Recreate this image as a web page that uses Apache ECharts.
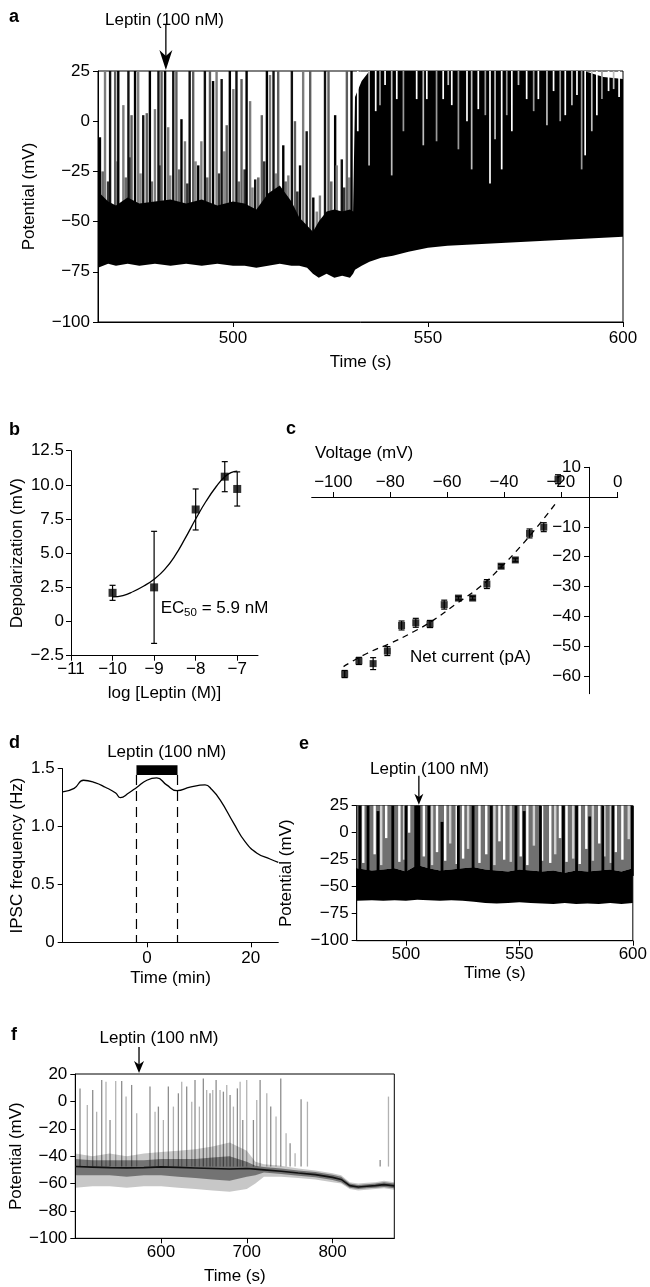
<!DOCTYPE html>
<html><head><meta charset="utf-8">
<script src="https://cdn.jsdelivr.net/npm/echarts@6/dist/echarts.min.js"></script>
<style>html,body{margin:0;padding:0;background:#fff}#c{width:650px;height:1287px}</style>
</head><body><div id="c"></div>
<script>
// ---------- Panel a : membrane potential trace ----------
const aT  = [465.4,468,470,473,476,480,484,488,492,496,500,503,506,509,512,515,517,519,520.5,522,524,526,528,530,530.8,531.3,533,535,538,541,545,550,555,560,565,570,575,580,585,590,595,600];
const aLo = [-73,-71,-72,-71,-72,-71,-72,-71,-72,-71,-72,-72,-73,-72,-71,-72,-72,-73,-76,-78,-76,-78,-77,-78,-76,-74,-72,-70,-68,-67,-65,-63,-62,-61.5,-61,-60.5,-60,-59.5,-59,-58.5,-58,-57.5];
const aHi = [-35,-40,-42,-38,-41,-40,-39,-41,-39,-42,-40,-41,-44,-36,-32,-40,-48,-52,-55,-50,-45,-44,-45,-44,-45,12,20,25,25,25,25,25,25,25,25,25,25,25,25,25,22,21];
const aSpikeT  = [465.9,467.2,468.5,469.8,470.6,471.9,473.2,474.0,474.9,475.7,477.0,477.9,478.7,480.0,480.9,481.7,482.6,483.4,484.7,485.5,486.8,487.7,488.9,489.8,491.1,491.9,492.8,494.1,494.9,495.8,497.1,498.4,499.2,500.1,500.9,502.2,503.5,504.4,505.7,507.4,508.7,509.5,510.4,511.6,512.9,514.2,515.1,515.9,517.2,518.0,518.9,519.8,520.6,522.3,523.6,524.5,526.2,526.6,527.9,529.2,530.4];
const aSpikePk = [-8,25,25,25,25,8,25,3,25,25,3,4,25,6,25,25,25,-3,25,25,1,-10,25,25,-22,-10,25,25,20,25,21,-2,25,16,25,21,25,10,-29,3,25,23,25,25,-12,-27,25,0,-22,25,-5,25,-38,-37,25,25,3,-22,-19,25,25];
const aShortT  = [466.6,468.0,470.2,472.5,473.7,476.3,479.2,481.3,483.9,486.2,488.3,490.4,493.4,496.4,497.8,501.5,503.0,505.0,506.5,508.0,511.0,513.5,516.5,521.5,525.2,528.5,529.8];
const aShortPk = [-25,-30,-20,-28,-18,-26,-30,-22,-27,-24,-31,-20,-28,-26,-15,-30,-24,-33,-28,-20,-26,-30,-35,-45,-30,-33,-28];
const aGapT = [532.0,534.9,536.6,537.7,539.0,540.7,542.0,543.7,547.1,548.8,549.7,552.2,553.9,555.2,556.1,557.8,560.0,561.2,562.9,564.7,565.9,567.2,568.9,570.2,571.5,573.2,575.3,577.1,578.3,580.5,582.2,583.9,585.2,586.9,588.2,589.4,590.3,592.0,593.3,594.6,596.3,597.6,599.0];
const aGapD = [-5,-22,5,8,18,-27,11,-5,11,-12,11,-10,11,18,8,-14,0,-24,6,3,-31,-9,-24,3,-5,18,11,5,11,-2,15,0,3,8,13,-24,-17,-5,3,11,15,16,12];
const aLeptin = 482.8;
const aXTicks = [500,550,600];

// ---------- Panel b : dose response ----------
const bX   = [-10,-9,-8,-7.3,-7];
const bY   = [2.1,2.5,8.2,10.6,9.7];
const bErr = [0.55,4.1,1.5,1.1,1.25];
const bFitX = [-10,-9.75,-9.5,-9.25,-9,-8.75,-8.5,-8.25,-8,-7.75,-7.5,-7.3,-7.15,-7];
const bFitY = [1.8,1.9,2.2,2.6,3.1,3.8,4.8,6.1,7.5,8.8,9.9,10.6,10.9,11.0];
const bXTicks = [-11,-10,-9,-8,-7];

// ---------- Panel c : I-V relation ----------
const cV   = [-96,-91,-86,-81,-76,-71,-66,-61,-56,-51,-46,-41,-36,-31,-26,-21];
const cI   = [-59.4,-55.0,-55.9,-51.7,-43.1,-42.2,-42.6,-36.1,-33.9,-33.9,-29.2,-23.2,-21.1,-12.2,-10.1,6.0];
const cErr = [1.2,1.2,2.0,1.5,1.5,1.5,1.2,1.5,0.6,0.6,1.5,0.6,0.6,1.5,1.5,1.5];
const cFitV = [-96.4,-88.2,-80.0,-71.8,-64.8,-56.6,-48.4,-41.4,-34.3,-27.3,-21.4];
const cFitI = [-56.9,-52.5,-49.1,-45.2,-41.3,-35.7,-30.1,-23.9,-16.7,-8.8,-1.6];
const cXTicks = [-100,-80,-60,-40,-20,0];
const cYTicks = [10,-10,-20,-30,-40,-50,-60];

// ---------- Panel d : IPSC frequency ----------
const dT = [-16.2,-14,-12.2,-10,-8,-6,-5.1,-3.5,-1.9,0,1.9,3.8,5.8,8.3,11.2,12.5,14.1,16.7,18.9,21.2,23.7,25.3];
const dF = [1.30,1.33,1.40,1.38,1.34,1.29,1.25,1.29,1.34,1.40,1.42,1.36,1.31,1.34,1.36,1.32,1.23,1.03,0.87,0.77,0.72,0.69];
const dLeptin = [-2,5.9];
const dXTicks = [0,20];

// ---------- Panel e : potential trace ----------
const eT  = [478.3,485,490,495,500,505,510,515,520,525,530,535,540,545,550,555,560,565,570,575,580,585,590,595,600];
const eLo = [-63,-62.5,-63,-62.5,-63,-62,-62.5,-63,-62.5,-63,-64,-65,-65.5,-65,-64.5,-65,-65.5,-66,-65,-66,-65.5,-66,-65,-66,-65];
const eHi = [-33,-35,-34,-33,-36,-30,-33,-35,-34,-33,-32,-34,-35,-36,-34,-35,-36,-35,-37,-35,-36,-35,-34,-36,-33];
const eGapT = [481.2,486.2,489.1,491.3,497.1,499.2,501.4,507.9,511.5,513.7,517.3,519.5,522.4,525.2,527.4,532.4,535.4,539.0,541.2,543.3,546.2,550.6,553.5,556.4,560.0,563.6,565.8,567.9,570.8,573.7,576.6,579.5,582.4,585.2,587.4,590.3,592.5,595.4,598.2];
const eGapD = [-28,-20,-30,-5,-27,-25,0,-22,-30,-18,-26,-10,-29,-24,-15,-28,-20,-30,-8,-25,-27,-22,-30,-12,-26,-28,-20,-5,-27,-24,-29,-15,-26,-10,-22,-28,-18,-25,-6];
const eSpikeT  = [479.7,483.3,487.7,494.2,500.0,504.3,505.0,505.7,510.1,515.9,523.1,529.6,537.6,548.5,552.1,559.3,569.4,575.2,581.0,586.8,591.2,599.8];
const eSpikePk = [25,25,20,25,25,25,25,25,25,10,25,25,25,25,20,25,25,25,15,25,25,25];
const eLeptin = 505.7;
const eXTicks = [500,550,600];

// ---------- Panel f : potential trace ----------
const fT    = [500,520,540,560,580,600,620,640,660,680,700,710,720,740,760,780,800,810,820,830,840,850,860,872];
const fLo   = [-63,-62,-62,-63,-62,-62,-63,-64,-65,-66,-64,-60,-55,-55,-56,-57,-59,-60,-64,-65,-64.5,-64,-63.5,-64.5];
const fHi   = [-38,-40,-38,-40,-38,-37,-36,-35,-33,-30,-36,-44,-46,-47,-49,-50.5,-52.5,-54,-59,-60,-59.5,-59,-58,-59];
const fInLo = [-54,-54,-54,-55,-54,-54,-55,-56,-57,-58,-55,-54,-52,-53,-54.3,-55.5,-57.5,-59,-63,-64,-63.5,-63,-62.5,-63.5];
const fInHi = [-42,-43,-43,-43,-43,-42,-42,-42,-41,-40,-44,-47,-48,-49,-50.5,-51.5,-53.5,-55,-60,-61,-60.5,-60,-59,-60];
const fMid  = [-47.6,-48,-48.4,-48.6,-48.4,-47.8,-48.2,-48.6,-49,-49.4,-49,-49.5,-50,-51,-52.3,-53.5,-55.5,-57,-61.5,-62.5,-62,-61.5,-60.8,-61.7];
const fSpikeT  = [505.5,514.0,520.3,524.9,530.8,535.8,540.5,547.1,554.1,559.2,565.7,571.6,587.1,593.0,596.9,602.7,608.5,614.4,620.2,624.1,629.9,635.8,639.6,644.7,649.3,653.2,657.1,660.3,664.2,668.8,672.7,676.6,680.5,684.4,689.0,692.2,695.3,699.9,707.7,711.6,715.5,723.3,727.9,734.1,739.6,745.8,750.5,756.3,763.3,770.7,855.5,865.2];
const fSpikePk = [9.5,-2.6,8.3,-7.5,15.6,14.4,-13.6,14.9,14.9,3.5,12.0,-8.7,10.8,-7.5,-3.8,-13.6,10.8,-3.8,5.9,14.4,10.8,-0.2,15.6,-3.8,16.8,8.3,5.9,8.3,15.6,8.3,7.1,12.0,4.7,-3.8,9.5,14.4,-13.6,15.6,-13.6,1.0,15.6,5.9,-3.8,-11.1,16.8,-23.3,-30.6,-37.9,1.5,-0.2,-42.8,3.5];
const fLeptin = 574.3;
const fXTicks = [600,700,800];

// ---------- helpers ----------
const FONT = "'Liberation Sans', Arial, Helvetica, sans-serif";
const FS = 17;
const neg = v => (v < 0 ? '\u2212' + Math.abs(v) : String(v));
const lbl = (extra) => Object.assign({color:'#000', fontFamily:FONT, fontSize:FS}, extra);
const line1 = {show:true, onZero:false, lineStyle:{color:'#000', width:1}};
const tick1 = (extra) => Object.assign({show:true, length:5, lineStyle:{color:'#000', width:1}}, extra);

function band(gi, T, LO, HI, fill, z) {
  return {type:'custom', xAxisIndex:gi, yAxisIndex:gi, z:z, silent:true, data:[[T[0], 0]],
    renderItem: function(p, api) {
      const pts = [];
      for (let i = 0; i < T.length; i++) pts.push(api.coord([T[i], typeof LO === 'number' ? LO : LO[i]]));
      for (let i = T.length - 1; i >= 0; i--) pts.push(api.coord([T[i], typeof HI === 'number' ? HI : HI[i]]));
      return {type:'polygon', shape:{points:pts}, style:{fill:fill}};
    }};
}
function vlines(gi, T, FROM, TO, colors, width, z) {
  return {type:'custom', xAxisIndex:gi, yAxisIndex:gi, z:z, silent:true,
    data: T.map((t, i) => [t, typeof FROM === 'number' ? FROM : FROM[i], TO[i]]),
    renderItem: function(p, api) {
      const a = api.coord([api.value(0), api.value(1)]);
      const b = api.coord([api.value(0), api.value(2)]);
      return {type:'line', shape:{x1:a[0], y1:a[1], x2:b[0], y2:b[1]},
        style:{stroke:colors[p.dataIndex % colors.length], lineWidth:width}};
    }};
}
function arrow(gi, t, yTop, len, head, w) {
  return {type:'custom', xAxisIndex:gi, yAxisIndex:gi, z:20, silent:true, data:[[t, yTop]],
    renderItem: function(p, api) {
      const c = api.coord([api.value(0), api.value(1)]);
      const x = c[0], y = c[1] - 1;
      return {type:'group', children:[
        {type:'line', shape:{x1:x, y1:y - len, x2:x, y2:y - head * 0.6}, style:{stroke:'#000', lineWidth:1.3}},
        {type:'polygon', shape:{points:[[x - w/2, y - head], [x, y - head*0.7], [x + w/2, y - head], [x, y]]}, style:{fill:'#000'}}
      ]};
    }};
}
function errBars(gi, X, Y, E, cap) {
  return {type:'custom', xAxisIndex:gi, yAxisIndex:gi, z:5, silent:true,
    data: X.map((x, i) => [x, Y[i] - E[i], Y[i] + E[i]]),
    renderItem: function(p, api) {
      const lo = api.coord([api.value(0), api.value(1)]);
      const hi = api.coord([api.value(0), api.value(2)]);
      const st = {stroke:'#000', lineWidth:1.2};
      return {type:'group', children:[
        {type:'line', shape:{x1:lo[0], y1:lo[1], x2:hi[0], y2:hi[1]}, style:st},
        {type:'line', shape:{x1:lo[0]-cap, y1:lo[1], x2:lo[0]+cap, y2:lo[1]}, style:st},
        {type:'line', shape:{x1:hi[0]-cap, y1:hi[1], x2:hi[0]+cap, y2:hi[1]}, style:st}
      ]};
    }};
}
const pairs = (X, Y) => X.map((x, i) => [x, Y[i]]);

// ---------- layout ----------
const grids = [
  {left:98,  top:71,    width:525,   height:251,   show:true, borderColor:'#000', borderWidth:1},
  {left:71,  top:450.7, width:187,   height:205},
  {left:311.7, top:467.3, width:306, height:226.4},
  {left:62.7, top:768.7, width:215.6, height:173.6},
  {left:356.7, top:805.7, width:281,  height:135,  show:true, borderColor:'#000', borderWidth:1},
  {left:75.3, top:1074,  width:319,   height:164.3, show:true, borderColor:'#000', borderWidth:1}
];

const xAxes = [
  {gridIndex:0, type:'value', min:465.4, max:600, axisLine:line1, splitLine:{show:false},
   axisTick:tick1({customValues:aXTicks}), axisLabel:lbl({customValues:aXTicks, margin:8}),
   name:'Time (s)', nameLocation:'middle', nameGap:32, nameTextStyle:lbl({})},
  {gridIndex:1, type:'value', min:-11, max:-6.5, axisLine:line1, splitLine:{show:false},
   axisTick:tick1({customValues:bXTicks}), axisLabel:lbl({customValues:bXTicks, margin:5, formatter:neg}),
   name:'log [Leptin (M)]', nameLocation:'middle', nameGap:29, nameTextStyle:lbl({})},
  {gridIndex:2, type:'value', min:-107.6, max:0, position:'top', offset:-29.7, splitLine:{show:false},
   axisLine:{show:true, onZero:false, lineStyle:{color:'#000', width:1}},
   axisTick:tick1({customValues:cXTicks}),
   axisLabel:lbl({customValues:cXTicks, margin:6, formatter:neg})},
  {gridIndex:3, type:'value', min:-16.2, max:25.3, axisLine:line1, splitLine:{show:false},
   axisTick:tick1({customValues:dXTicks}), axisLabel:lbl({customValues:dXTicks, margin:8}),
   name:'Time (min)', nameLocation:'middle', nameGap:28, nameTextStyle:lbl({})},
  {gridIndex:4, type:'value', min:478.3, max:600, axisLine:line1, splitLine:{show:false},
   axisTick:tick1({customValues:eXTicks}), axisLabel:lbl({customValues:eXTicks, margin:5}),
   name:'Time (s)', nameLocation:'middle', nameGap:24, nameTextStyle:lbl({})},
  {gridIndex:5, type:'value', min:500, max:872, axisLine:line1, splitLine:{show:false},
   axisTick:tick1({customValues:fXTicks}), axisLabel:lbl({customValues:fXTicks, margin:6}),
   name:'Time (s)', nameLocation:'middle', nameGap:30, nameTextStyle:lbl({})}
];

const yAxes = [
  {gridIndex:0, type:'value', min:-100, max:25, interval:25, axisLine:line1, splitLine:{show:false},
   axisTick:tick1({}), axisLabel:lbl({margin:8, formatter:neg}),
   name:'Potential (mV)', nameLocation:'middle', nameGap:60, nameTextStyle:lbl({})},
  {gridIndex:1, type:'value', min:-2.5, max:12.5, interval:2.5, axisLine:line1, splitLine:{show:false},
   axisTick:tick1({}), axisLabel:lbl({margin:7, formatter: v => v === 0 ? '0' : (v < 0 ? '\u2212' : '') + Math.abs(v).toFixed(1)}),
   name:'Depolarization (mV)', nameLocation:'middle', nameGap:45, nameTextStyle:lbl({})},
  {gridIndex:2, type:'value', min:-66, max:10, position:'right', offset:-28.7, splitLine:{show:false},
   axisLine:{show:true, onZero:false, lineStyle:{color:'#000', width:1}},
   axisTick:tick1({inside:true, customValues:cYTicks}),
   axisLabel:lbl({inside:true, customValues:cYTicks, margin:8, formatter:neg})},
  {gridIndex:3, type:'value', min:0, max:1.5, interval:0.5, axisLine:line1, splitLine:{show:false},
   axisTick:tick1({}), axisLabel:lbl({margin:8, formatter: v => v === 0 ? '0' : v.toFixed(1)}),
   name:'IPSC frequency (Hz)', nameLocation:'middle', nameGap:37, nameTextStyle:lbl({})},
  {gridIndex:4, type:'value', min:-100, max:25, interval:25, axisLine:line1, splitLine:{show:false},
   axisTick:tick1({}), axisLabel:lbl({margin:8, formatter:neg}),
   name:'Potential (mV)', nameLocation:'middle', nameGap:62, nameTextStyle:lbl({})},
  {gridIndex:5, type:'value', min:-100, max:20, interval:20, axisLine:line1, splitLine:{show:false},
   axisTick:tick1({}), axisLabel:lbl({margin:8, formatter:neg}),
   name:'Potential (mV)', nameLocation:'middle', nameGap:44, nameTextStyle:lbl({})}
];

const series = [
  // a
  vlines(0, aShortT, -60, aShortPk, ['#6a6a6a', '#333', '#8a8a8a'], 2.6, 2),
  vlines(0, aSpikeT, -60, aSpikePk, ['#000', '#7d7d7d', '#111', '#5e5e5e'], 2.4, 2),
  band(0, aT, aLo, aHi, '#000', 3),
  vlines(0, aGapT, 25, aGapD, ['#ffffff', '#bdbdbd', '#ffffff', '#9a9a9a'], 1.7, 4),
  arrow(0, aLeptin, 25, 46, 20, 13),
  // b
  {type:'line', xAxisIndex:1, yAxisIndex:1, data:pairs(bFitX, bFitY), smooth:true, showSymbol:false, silent:true,
   lineStyle:{color:'#000', width:1.3}, z:3},
  errBars(1, bX, bY, bErr, 3),
  {type:'scatter', xAxisIndex:1, yAxisIndex:1, data:pairs(bX, bY), symbol:'rect', symbolSize:8, silent:true,
   itemStyle:{color:'#000'}, z:6},
  // c
  {type:'line', xAxisIndex:2, yAxisIndex:2, data:pairs(cFitV, cFitI), smooth:true, showSymbol:false, silent:true,
   lineStyle:{color:'#000', width:1.3, type:[6,5]}, z:3},
  errBars(2, cV, cI, cErr, 3),
  {type:'scatter', xAxisIndex:2, yAxisIndex:2, data:pairs(cV, cI), symbol:'rect', symbolSize:7, silent:true,
   itemStyle:{color:'#000'}, z:6},
  // d
  {type:'line', xAxisIndex:3, yAxisIndex:3, data:pairs(dT, dF), smooth:true, showSymbol:false, silent:true,
   lineStyle:{color:'#000', width:1.3}, z:3},
  {type:'custom', xAxisIndex:3, yAxisIndex:3, z:4, silent:true, data:[dLeptin],
   renderItem: function(p, api) {
     const on = api.value(0), off = api.value(1);
     const p1 = api.coord([on, 1.53]), p2 = api.coord([off, 1.445]);
     const b1 = api.coord([on, 0]), b2 = api.coord([off, 0]);
     const ds = {stroke:'#000', lineWidth:1.2, lineDash:[10,6]};
     return {type:'group', children:[
       {type:'rect', shape:{x:p1[0], y:p1[1], width:p2[0]-p1[0], height:p2[1]-p1[1]}, style:{fill:'#000'}},
       {type:'line', shape:{x1:p1[0], y1:p2[1], x2:b1[0], y2:b1[1]}, style:ds},
       {type:'line', shape:{x1:p2[0], y1:p2[1], x2:b2[0], y2:b2[1]}, style:ds}
     ]};
   }},
  // e
  band(4, eT, eHi, 25, '#707070', 2),
  vlines(4, eGapT, 25, eGapD, ['#ffffff', '#ffffff', '#d0d0d0'], 2.4, 3),
  vlines(4, eSpikeT, -40, eSpikePk, ['#000'], 2.8, 3),
  band(4, eT, eLo, eHi, '#000', 5),
  arrow(4, eLeptin, 25, 29, 11, 9),
  // f
  vlines(5, fSpikeT, fMid[0], fSpikePk, ['rgba(0,0,0,0.45)', 'rgba(0,0,0,0.3)'], 1.3, 2),
  band(5, fT, fLo, fHi, 'rgba(0,0,0,0.22)', 3),
  band(5, fT, fInLo, fInHi, 'rgba(0,0,0,0.42)', 4),
  {type:'line', xAxisIndex:5, yAxisIndex:5, data:pairs(fT, fMid), showSymbol:false, silent:true,
   lineStyle:{color:'#111', width:1.6}, z:5},
  arrow(5, fLeptin, 20, 26, 12, 10)
];

function txt(text, x, y, opts) {
  const o = Object.assign({align:'left', size:FS, weight:'normal'}, opts || {});
  return {type:'text', x:x, y:y, z:100, silent:true,
    style:{text:text, fill:'#000', font:o.weight + ' ' + o.size + 'px ' + FONT,
      textAlign:o.align, align:o.align, textVerticalAlign:'middle', verticalAlign:'middle'}};
}
const PL = {weight:'bold', size:18};
const graphic = [
  txt('a', 9, 17, PL), txt('b', 9, 430, PL), txt('c', 286, 429, PL),
  txt('d', 9, 743, PL), txt('e', 299, 744, PL), txt('f', 11, 1035, PL),
  txt('Leptin (100 nM)', 164.5, 20, {align:'center'}),
  txt('Leptin (100 nM)', 166.7, 752.7, {align:'center'}),
  txt('Leptin (100 nM)', 429.5, 769, {align:'center'}),
  txt('Leptin (100 nM)', 159, 1038, {align:'center'}),
  txt('Voltage (mV)', 315, 453),
  txt('Net current (pA)', 410, 657),
  txt('EC', 160.7, 608), txt('50', 184, 613, {size:11.5}), txt(' = 5.9 nM', 197, 608)
];

const chart = echarts.init(document.getElementById('c'), null, {renderer:'canvas'});
chart.setOption({animation:false, backgroundColor:'#fff', grid:grids, xAxis:xAxes, yAxis:yAxes, series:series, graphic:graphic});
</script></body></html>
